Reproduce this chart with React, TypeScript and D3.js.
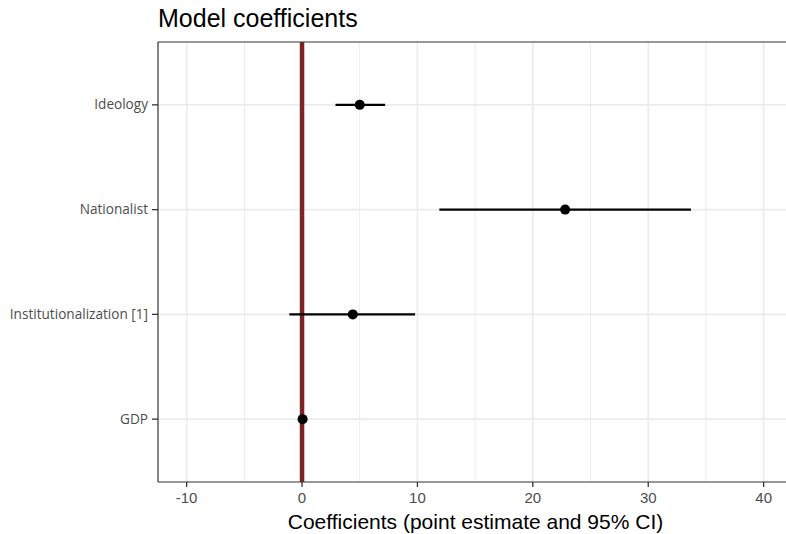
import React from "react";
import * as d3 from "d3";

const terms = ["Ideology", "Nationalist", "Institutionalization [1]", "GDP"];
const estimates = [5.0, 22.8, 4.4, 0.05];
const lower = [2.9, 11.9, -1.1, -0.1];
const upper = [7.2, 33.7, 9.8, 0.2];
const xTicks = [-10, 0, 10, 20, 30, 40];
const xMinor = [-5, 5, 15, 25, 35];

const W = 786, H = 534;
const M = { left: 158, right: 800, top: 42, bottom: 482 };

export default function App() {
  const x = d3.scaleLinear().domain([-12.48, 43.15]).range([M.left, M.right]);
  const y = d3.scalePoint<string>().domain(terms).range([M.top, M.bottom]).padding(0.6);
  const grid = "#EBEBEB";
  return (
    <svg width={W} height={H} style={{ position: "absolute", left: 0, top: 0, overflow: "hidden" }}>
      <rect width={W} height={H} fill="#fff" />
      <text x={158} y={27} fontFamily="Liberation Sans, Arial, sans-serif" fontSize={25} fill="#000">Model coefficients</text>
      {xMinor.map(v => (
        <line key={"m" + v} x1={x(v)} x2={x(v)} y1={M.top} y2={M.bottom} stroke={grid} strokeWidth={1} />
      ))}
      {xTicks.map(v => (
        <line key={"g" + v} x1={x(v)} x2={x(v)} y1={M.top} y2={M.bottom} stroke={grid} strokeWidth={1.6} />
      ))}
      {terms.map(t => (
        <line key={"h" + t} x1={M.left} x2={W} y1={y(t)} y2={y(t)} stroke={grid} strokeWidth={1.6} />
      ))}
      <line x1={x(0)} x2={x(0)} y1={M.top} y2={M.bottom} stroke="#7B2424" strokeWidth={4.5} />
      {terms.map((t, i) => (
        <g key={"d" + t}>
          <line x1={x(lower[i])} x2={x(upper[i])} y1={y(t)} y2={y(t)} stroke="#000" strokeWidth={2.4} />
          <circle cx={x(estimates[i])} cy={y(t)} r={5} fill="#000" />
        </g>
      ))}
      <line x1={M.left} x2={W} y1={M.top} y2={M.top} stroke="#333" strokeWidth={1.2} />
      <line x1={M.left} x2={W} y1={M.bottom} y2={M.bottom} stroke="#333" strokeWidth={1.2} />
      <line x1={M.left} x2={M.left} y1={M.top} y2={M.bottom} stroke="#333" strokeWidth={1.2} />
      {terms.map(t => (
        <g key={"yt" + t}>
          <line x1={M.left - 6} x2={M.left} y1={y(t)} y2={y(t)} stroke="#333" strokeWidth={1.3} />
          <text x={M.left - 10} y={(y(t) as number) + 4.5} textAnchor="end" fontFamily="Open Sans, sans-serif" fontSize={13.6} fill="#4D4D4D">{t}</text>
        </g>
      ))}
      {xTicks.map(v => (
        <g key={"xt" + v}>
          <line x1={x(v)} x2={x(v)} y1={M.bottom} y2={M.bottom + 5} stroke="#333" strokeWidth={1.3} />
          <text x={x(v)} y={M.bottom + 21} textAnchor="middle" fontFamily="Liberation Sans, Arial, sans-serif" fontSize={15} fill="#4D4D4D">{v}</text>
        </g>
      ))}
      <text x={475.5} y={529} textAnchor="middle" fontFamily="Liberation Sans, Arial, sans-serif" fontSize={21} fill="#000">Coefficients (point estimate and 95% CI)</text>
    </svg>
  );
}
